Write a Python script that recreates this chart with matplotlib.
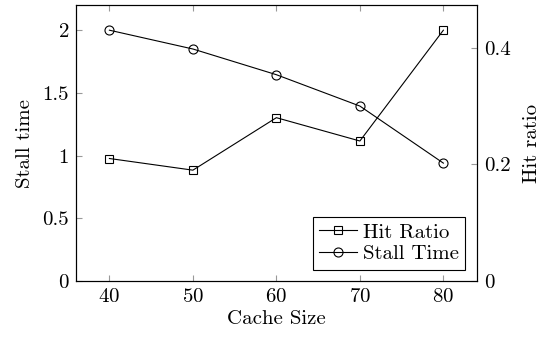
import matplotlib
matplotlib.use('Agg')
import matplotlib.pyplot as plt

plt.rcParams['font.family'] = 'serif'
plt.rcParams['font.serif'] = ['cmr10']
plt.rcParams['axes.formatter.use_mathtext'] = True
plt.rcParams['font.size'] = 15

cache_size = [40, 50, 60, 70, 80]
stall_time = [2.0, 1.85, 1.645, 1.395, 0.94]
hit_ratio = [0.21, 0.19, 0.28, 0.24, 0.43]

fig = plt.figure(figsize=(5.43, 3.41), dpi=100)
ax = fig.add_axes([0.140, 0.176, 0.738, 0.809])
ax2 = ax.twinx()

l2, = ax.plot(cache_size, stall_time, color='black', lw=0.8, marker='o',
              ms=6.5, mfc='none', mec='black', mew=0.8, label='Stall Time')
l1, = ax2.plot(cache_size, hit_ratio, color='black', lw=0.8, marker='s',
               ms=6, mfc='none', mec='black', mew=0.8, label='Hit Ratio')

ax.set_xlim(36, 84)
ax.set_ylim(0, 2.2)
ax2.set_ylim(0, 0.473)
ax.set_xticks(cache_size)
ax.set_yticks([0, 0.5, 1, 1.5, 2])
ax.set_yticklabels(['0', '0.5', '1', '1.5', '2'])
ax2.set_yticks([0, 0.2, 0.4])
ax2.set_yticklabels(['0', '0.2', '0.4'])

ax.tick_params(axis='x', direction='in', top=True, bottom=True, length=4, color='#999999', pad=5)
ax.tick_params(axis='y', direction='in', left=True, right=False, length=4, color='#999999', pad=5)
ax2.tick_params(axis='y', direction='in', length=4, color='#999999', pad=5)

for a in (ax, ax2):
    for s in a.spines.values():
        s.set_linewidth(0.8)

ax.set_xlabel('Cache Size', labelpad=3)
ax.set_ylabel('Stall time', labelpad=6)
ax2.set_ylabel('Hit ratio', labelpad=9)

leg = ax2.legend(handles=[l1, l2], loc='lower right', fancybox=False,
                 edgecolor='black', framealpha=1, handlelength=1.8,
                 handletextpad=0.3, borderpad=0.3, labelspacing=0.15,
                 borderaxespad=0.55)
leg.get_frame().set_linewidth(0.8)

fig.savefig('out.png', dpi=100)
